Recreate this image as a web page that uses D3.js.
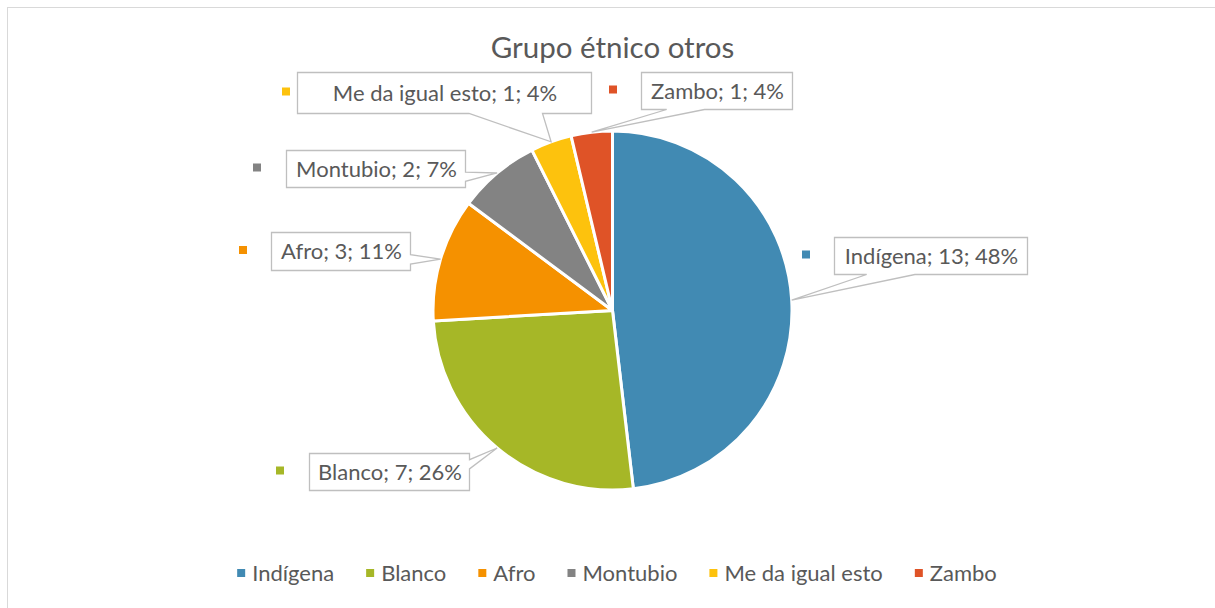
<!DOCTYPE html>
<html>
<head>
<meta charset="utf-8">
<script src="https://cdn.jsdelivr.net/npm/d3@7"></script>
<style>
  html, body { margin: 0; padding: 0; background: #fff; }
  svg { display: block; font-family: Lato, "Open Sans", sans-serif; }
</style>
</head>
<body>
<div id="chart"></div>
<script>
// data
const categories = ["Indígena", "Blanco", "Afro", "Montubio", "Me da igual esto", "Zambo"];
const counts = [13, 7, 3, 2, 1, 1];
const percents = ["48%", "26%", "11%", "7%", "4%", "4%"];
const colors = ["#418AB3", "#A6B727", "#F59100", "#838383", "#FDC20D", "#DF5327"];
const chartTitle = "Grupo étnico otros";

// label box layout (left, top, width, height, marker x)
const labelBoxes = [
  [834, 237, 193, 37, 806],
  [309, 453, 160, 37, 280],
  [271, 232, 139, 38, 243],
  [286, 150, 179, 37, 257],
  [297, 72, 294, 41, 286],
  [641, 72, 151, 37, 613]
];

const width = 1215, height = 608;
const cx = 612.5, cy = 310.5, radius = 179.5;

const svg = d3.select("#chart").append("svg")
  .attr("width", width)
  .attr("height", height);

// outer chart border
svg.append("rect")
  .attr("x", 7.5).attr("y", 7.5)
  .attr("width", width).attr("height", height)
  .attr("fill", "none")
  .attr("stroke", "#D9D9D9")
  .attr("stroke-width", 1);

svg.append("text")
  .attr("x", cx).attr("y", 58)
  .attr("text-anchor", "middle")
  .attr("fill", "#595959")
  .style("font-size", "29.5px")
  .text(chartTitle);

const data = categories.map((c, i) => ({ name: c, value: counts[i], pct: percents[i], color: colors[i], box: labelBoxes[i] }));

const pie = d3.pie().value(d => d.value).sort(null);
const arc = d3.arc().innerRadius(0).outerRadius(radius);
const arcs = pie(data);

const g = svg.append("g").attr("transform", `translate(${cx},${cy})`);

g.selectAll("path")
  .data(arcs)
  .enter()
  .append("path")
  .attr("d", arc)
  .attr("fill", d => d.data.color)
  .attr("stroke", "#fff")
  .attr("stroke-width", 3)
  .attr("stroke-linejoin", "round");

// callout boxes (wedgeRectCallout style)
function calloutPath(l, t, w, h, tx, ty) {
  const r = l + w, b = t + h;
  const dx = tx - (l + w / 2), dy = ty - (t + h / 2);
  const dq = dx * h / w;
  const vertical = Math.abs(dy) > Math.abs(dq);
  const x1 = l + w * (dx > 0 ? 7 : 2) / 12, x2 = l + w * (dx > 0 ? 10 : 5) / 12;
  const y1 = t + h * (dy > 0 ? 7 : 2) / 12, y2 = t + h * (dy > 0 ? 10 : 5) / 12;
  const p = d3.path();
  p.moveTo(l, t);
  if (vertical && dy < 0) { p.lineTo(x1, t); p.lineTo(tx, ty); p.lineTo(x2, t); }
  p.lineTo(r, t);
  if (!vertical && dx > 0) { p.lineTo(r, y1); p.lineTo(tx, ty); p.lineTo(r, y2); }
  p.lineTo(r, b);
  if (vertical && dy > 0) { p.lineTo(x2, b); p.lineTo(tx, ty); p.lineTo(x1, b); }
  p.lineTo(l, b);
  if (!vertical && dx < 0) { p.lineTo(l, y2); p.lineTo(tx, ty); p.lineTo(l, y1); }
  p.closePath();
  return p.toString();
}

const labels = svg.append("g");

arcs.forEach(a => {
  const mid = (a.startAngle + a.endAngle) / 2;
  const tx = cx + radius * Math.sin(mid);
  const ty = cy - radius * Math.cos(mid);
  const [l, t, w, h, mx] = a.data.box;

  labels.append("path")
    .attr("d", calloutPath(l + 0.5, t + 0.5, w, h, tx, ty))
    .attr("fill", "#fff")
    .attr("stroke", "#BFBFBF")
    .attr("stroke-width", 1.3);

  labels.append("rect")
    .attr("x", mx - 4).attr("y", t + h / 2 - 5)
    .attr("width", 8).attr("height", 8)
    .attr("fill", a.data.color);

  labels.append("text")
    .attr("x", l + w / 2 + 1).attr("y", t + h / 2 + 8)
    .attr("text-anchor", "middle")
    .attr("fill", "#595959")
    .style("font-size", "22px")
    .text(`${a.data.name}; ${a.data.value}; ${a.data.pct}`);
});

// legend
const legend = svg.append("g");
const items = legend.selectAll("g")
  .data(data)
  .enter()
  .append("g");

items.append("rect")
  .attr("width", 8).attr("height", 8)
  .attr("y", -4)
  .attr("fill", d => d.color);

items.append("text")
  .attr("x", 15)
  .attr("y", 8)
  .attr("fill", "#595959")
  .style("font-size", "22px")
  .text(d => d.name);

let offset = 0;
items.each(function() {
  const el = d3.select(this);
  el.attr("transform", `translate(${offset},0)`);
  offset += 15 + el.select("text").node().getComputedTextLength() + 32;
});
const totalW = offset - 32;
legend.attr("transform", `translate(${617 - totalW / 2},573)`);
</script>
</body>
</html>
